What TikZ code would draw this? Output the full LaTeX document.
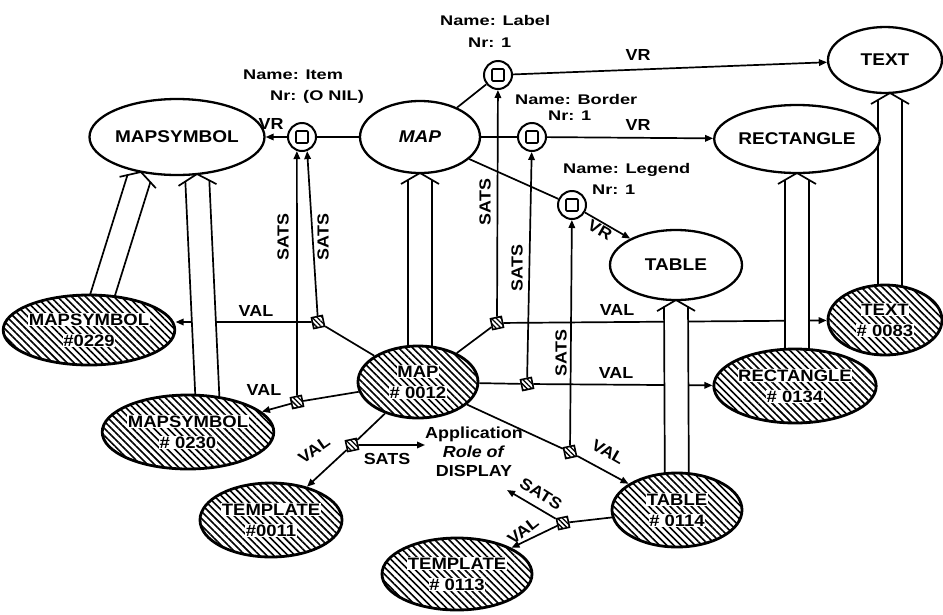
\documentclass[tikz,border=0pt]{standalone}
\usepackage{fontspec}
\setmainfont{Liberation Sans}
\newfontfamily\tyf{Liberation Sans}[FakeStretch=1.12]
\newfontfamily\lbf{Liberation Sans}[FakeStretch=1.3]
\usetikzlibrary{shapes.geometric,patterns.meta,arrows.meta,calc}
\pgfdeclarelayer{bg}\pgfdeclarelayer{mid}\pgfsetlayers{bg,mid,main}
\newcommand\wb[1]{{\setlength{\fboxsep}{0.6pt}\colorbox{white}{#1}}}
\newcommand\instarrow[2]{%
  \coordinate (ia) at #1; \coordinate (ib) at #2;
  \coordinate (ibs) at ($(ib)!6.5pt!(ia)$);
  \coordinate (ibw) at ($(ib)!11pt!(ia)$);
  \fill[white] ($(ia)!12pt!90:(ib)$) -- ($(ibs)!12pt!-90:(ia)$) -- (ib) -- ($(ibs)!12pt!90:(ia)$) -- ($(ia)!12pt!-90:(ib)$) -- cycle;
  \draw[conn] ($(ia)!12pt!90:(ib)$) -- ($(ibs)!12pt!-90:(ia)$);
  \draw[conn] ($(ia)!12pt!-90:(ib)$) -- ($(ibs)!12pt!90:(ia)$);
  \draw[conn, line join=miter] ($(ibw)!19pt!-90:(ia)$) -- (ib) -- ($(ibw)!19pt!90:(ia)$);
}
\begin{document}
\begin{tikzpicture}[x=1pt,y=-1pt,
  conn/.style={line width=1.7pt},
  arr/.style={conn,-{Triangle[length=8pt,width=6.5pt]}},
  typ/.style={ellipse,draw,line width=2.3pt,fill=white,inner sep=0pt,align=center,
    font=\tyf\bfseries\fontsize{17}{20}\selectfont},
  inst/.style={ellipse,draw,line width=2.8pt,inner sep=0pt,align=center,
    preaction={fill=white},pattern={Lines[angle=-45,distance=5pt,line width=1.6pt]},
    font=\tyf\bfseries\fontsize{16.5}{21}\selectfont},
  nr/.style={circle,draw,line width=2pt,fill=white,minimum size=28pt,inner sep=0pt,
    path picture={\draw[line width=1.7pt,rounded corners=1pt]
      ([shift={(-6pt,-6pt)}]path picture bounding box.center) rectangle ++(12pt,12pt);}},
  sq/.style={rectangle,draw,line width=1.6pt,minimum size=11pt,inner sep=0pt,rotate=12,
    preaction={fill=white},pattern={Lines[angle=-45,distance=3.5pt,line width=1.3pt]}},
  lab/.style={inner sep=0pt,font=\tyf\bfseries\fontsize{16}{19}\selectfont},
  nm/.style={inner sep=0pt,anchor=west,font=\lbf\bfseries\fontsize{14}{16}\selectfont}]
\useasboundingbox (0,0) rectangle (943,614);
\begin{pgfonlayer}{bg}
\fill[white] (0,0) rectangle (943,614);
\end{pgfonlayer}
% type nodes
\node[typ,minimum width=154pt,minimum height=76pt] (ms) at (177,137) {MAPSYMBOL};
\node[typ,minimum width=120pt,minimum height=72pt] (map) at (420,137) {\itshape MAP};
\node[typ,minimum width=156pt,minimum height=68pt] (rect) at (797,139) {RECTANGLE};
\node[typ,minimum width=114pt,minimum height=66pt] (text) at (885,60) {TEXT};
\node[typ,minimum width=132pt,minimum height=70pt] (table) at (676,265) {TABLE};
% instance nodes
\node[inst,minimum width=156pt,minimum height=70pt] (m229) at (89,330) {\wb{MAPSYMBOL}\\\wb{\#0229}};
\node[inst,minimum width=156pt,minimum height=74pt] (m230) at (188,432) {\wb{MAPSYMBOL}\\\wb{\# 0230}};
\node[inst,minimum width=120pt,minimum height=72pt] (m12) at (418,382) {\wb{MAP}\\\wb{\# 0012}};
\node[inst,minimum width=142pt,minimum height=74pt] (t11) at (271,520) {\wb{TEMPLATE}\\\wb{\#0011}};
\node[inst,minimum width=150pt,minimum height=72pt] (t113) at (457,574) {\wb{TEMPLATE}\\\wb{\# 0113}};
\node[inst,minimum width=130pt,minimum height=74pt] (tb114) at (677,510) {\wb{TABLE}\\\wb{\# 0114}};
\node[inst,minimum width=146pt,minimum height=74pt] (r134) at (795,386) {\wb{RECTANGLE}\\\wb{\# 0134}};
\node[inst,minimum width=114pt,minimum height=70pt] (tx83) at (885,320) {\wb{TEXT}\\\wb{\# 0083}};
% role circles
\node[nr] (item) at (302,137) {};
\node[nr] (label) at (498,75) {};
\node[nr] (border) at (532,137) {};
\node[nr] (legend) at (572,205) {};
% value squares
\node[sq] (s1) at (318,322) {};
\node[sq] (s2) at (297,402) {};
\node[sq] (s3) at (352,445) {};
\node[sq] (s4) at (497,323) {};
\node[sq] (s5) at (527,384) {};
\node[sq] (s6) at (570,452) {};
\node[sq] (s7) at (563,523) {};
% role texts
\node[nm] (nmitem) at (243,75) {Name: Item};
\node[nm] (nritem) at (270,97) {Nr: (O NIL)};
\node[nm] (nmlabel) at (440,20) {Name: Label};
\node[nm] (nrlabel) at (468,43) {Nr: 1};
\node[nm] (nmborder) at (515,99) {Name: Border};
\node[nm] (nrborder) at (548,116) {Nr: 1};
\node[nm] (nmlegend) at (563,170) {Name: Legend};
\node[nm] (nrlegend) at (592,190) {Nr: 1};
\node[lab,align=center] (app) at (474,452) {Application\\\textit{Role of}\\DISPLAY};
\coordinate (sats7end) at (507,490);
% connector labels
\node[lab] (vr1) at (271,124) {VR};
\node[lab] (vr2) at (638,55) {VR};
\node[lab] (vr3) at (638,125) {VR};
\node[lab,rotate=-30] (vr4) at (600,230) {VR};
\node[lab] (val1) at (256,311) {VAL};
\node[lab] (val2) at (264,390) {VAL};
\node[lab,rotate=35] (val3) at (314,450) {VAL};
\node[lab] (val4) at (617,310) {VAL};
\node[lab] (val5) at (616,373) {VAL};
\node[lab,rotate=-30] (val6) at (608,452) {VAL};
\node[lab,rotate=38] (val7) at (523,531) {VAL};
\node[lab,rotate=90] (sats1) at (283,237) {SATS};
\node[lab,rotate=90] (sats2) at (323,237) {SATS};
\node[lab,rotate=90] (sats3) at (485,202) {SATS};
\node[lab,rotate=90] (sats4) at (517,268) {SATS};
\node[lab,rotate=90] (sats5) at (561,353) {SATS};
\node[lab] (sats6) at (387,459) {SATS};
\node[lab,rotate=-32] (sats7) at (541,494) {SATS};
% thin connectors
\begin{pgfonlayer}{bg}
\draw[conn] (map) -- (item);
\draw[arr] (item) -- (ms);
\draw[conn] (map) -- (label);
\draw[arr] (label) -- (text);
\draw[conn] (map) -- (border);
\draw[arr] (border) -- (rect);
\draw[conn] (map) -- (legend);
\draw[arr] (legend) -- (table);
\draw[arr] (s1) -- (item.-70);
\draw[arr] (s2) -- (item.-110);
\draw[arr] (s4) -- (label);
\draw[arr] (s5) -- (border);
\draw[arr] (s6) -- (legend);
\draw[conn] (m12) -- (s1);
\draw[conn] (m12) -- (s2);
\draw[conn] (m12) -- (s3);
\draw[conn] (m12) -- (s4);
\draw[conn] (m12) -- (s5);
\draw[conn] (m12) -- (s6);
\draw[conn] (tb114) -- (s7);
\draw[arr] (s1) -- (s1 -| m229.east);
\draw[arr] (s2) -- (m230);
\draw[arr] (s3) -- (t11);
\draw[arr] (s3) -- (s3 -| app.west);
\draw[arr] (s4) -- (tx83);
\draw[arr] (s5) -- (r134);
\draw[arr] (s6) -- (tb114);
\draw[arr] (s7) -- (t113);
\draw[arr] (s7) -- (sats7end);
\end{pgfonlayer}
% instance-of arrows
\begin{pgfonlayer}{mid}
\instarrow{($(m229)+(2,2)$)}{($(ms)+(-36,35)$)}
\instarrow{($(m230)+(21,0)$)}{($(ms)+(20,37)$)}
\instarrow{($(m12)+(2,0)$)}{($(map)+(0,36)$)}
\instarrow{(tb114)}{($(table)+(0,35)$)}
\instarrow{($(r134)+(2,0)$)}{($(rect)+(0,34)$)}
\instarrow{($(tx83)+(5,0)$)}{($(text)+(5,33)$)}
\end{pgfonlayer}
\end{tikzpicture}
\end{document}
